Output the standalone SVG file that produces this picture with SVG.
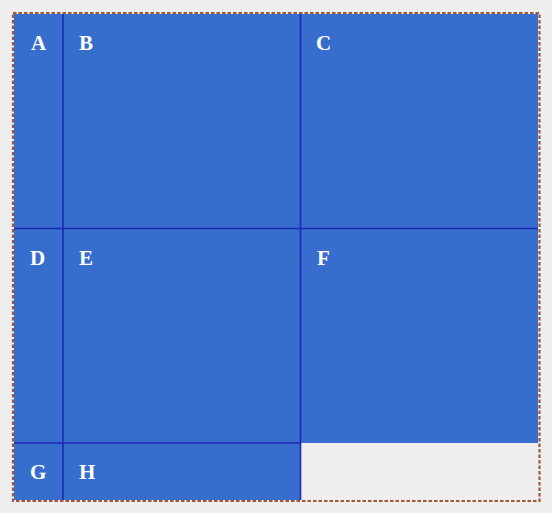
<svg xmlns="http://www.w3.org/2000/svg" width="552" height="513" viewBox="0 0 552 513">
<style>
.cell{fill:#376dcc}
.lbl{fill:#ffffff;font-family:"Liberation Serif",serif;font-weight:bold;font-size:21px}
.grid{stroke:#1f28b4;stroke-width:1.6;fill:none}
</style>
<rect x="0" y="0" width="552" height="513" fill="#eeeeee"/>
<g id="A"><rect class="cell" x="14" y="14" width="49" height="214"/><text class="lbl" x="31" y="50">A</text></g>
<g id="B"><rect class="cell" x="63" y="14" width="237" height="214"/><text class="lbl" x="79" y="50">B</text></g>
<g id="C"><rect class="cell" x="300" y="14" width="238" height="214"/><text class="lbl" x="316" y="50">C</text></g>
<g id="D"><rect class="cell" x="14" y="228" width="49" height="215"/><text class="lbl" x="30" y="265">D</text></g>
<g id="E"><rect class="cell" x="63" y="228" width="237" height="215"/><text class="lbl" x="79" y="265">E</text></g>
<g id="F"><rect class="cell" x="300" y="228" width="238" height="215"/><text class="lbl" x="317" y="265">F</text></g>
<g id="G"><rect class="cell" x="14" y="443" width="49" height="57"/><text class="lbl" x="30" y="479">G</text></g>
<g id="H"><rect class="cell" x="63" y="443" width="237" height="57"/><text class="lbl" x="79" y="479">H</text></g>
<g id="connectors">
<line class="grid" x1="63" y1="14" x2="63" y2="500"/>
<line class="grid" x1="300.5" y1="14" x2="300.5" y2="500"/>
<line class="grid" x1="14" y1="228.5" x2="538" y2="228.5"/>
<line class="grid" x1="14" y1="443" x2="300.5" y2="443"/>
</g>
<rect x="13" y="13" width="526.5" height="488" fill="none" stroke="#a0583c" stroke-width="2.2" stroke-dasharray="3.5,2"/>
</svg>
